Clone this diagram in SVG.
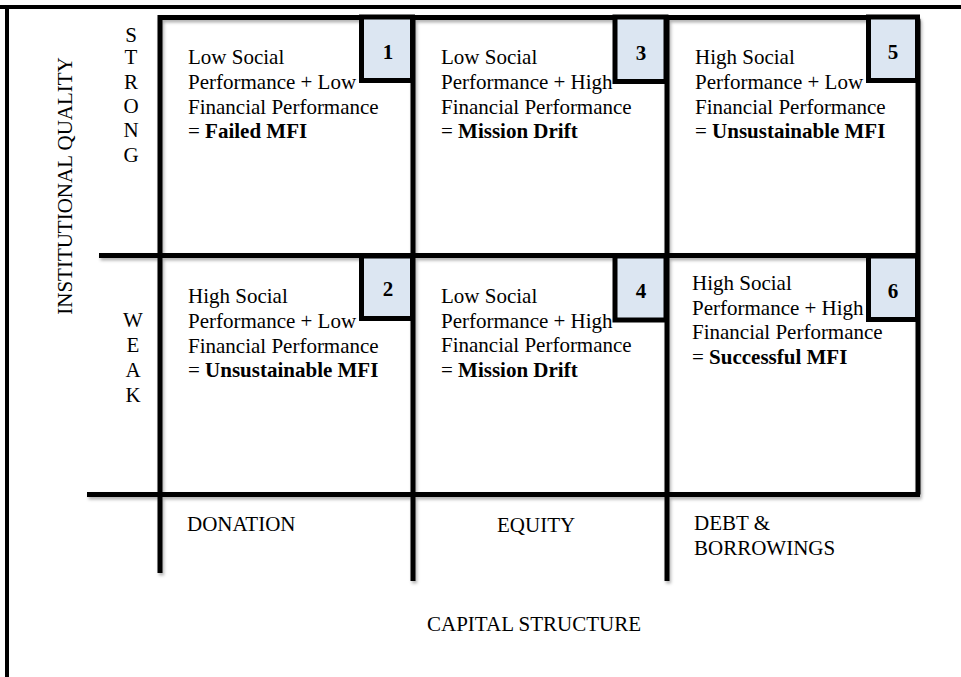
<svg xmlns="http://www.w3.org/2000/svg" width="961" height="677" viewBox="0 0 961 677">
  <defs>
    <filter id="shadow" x="-5%" y="-5%" width="110%" height="110%">
      <feDropShadow dx="1.5" dy="2.5" stdDeviation="1.5" flood-color="#000" flood-opacity="0.3"/>
    </filter>
  </defs>
  <style>
    text { font-family: "Liberation Serif", "Times New Roman", serif; font-size: 21px; fill: #000; }
    .b { font-weight: bold; }
    .num { font-weight: bold; text-anchor: middle; }
    .nbox { fill: #dce6f2; stroke: #000; stroke-width: 5; }
    .grid { stroke: #000; stroke-width: 5; fill: none; }
    .frame { stroke: #000; stroke-width: 4; fill: none; }
    .mid { text-anchor: middle; }
  </style>
  <rect width="961" height="677" fill="#fff"/>

  <g id="frame">
    <line class="frame" x1="0" y1="7" x2="961" y2="7"/>
    <line class="frame" x1="7" y1="5" x2="7" y2="677"/>
  </g>

  <g id="connectors" filter="url(#shadow)">
    <path class="grid" d="M160 573 V17.5 H914 Q918 17.5 918 21.5 V494.5"/>
    <line class="grid" x1="413" y1="17" x2="413" y2="581"/>
    <line class="grid" x1="667" y1="17" x2="667" y2="581"/>
    <line class="grid" x1="99" y1="255.5" x2="920" y2="255.5"/>
    <line class="grid" x1="87" y1="494.5" x2="920" y2="494.5"/>
  </g>

  <g id="cell-1">
    <rect class="nbox" x="361.5" y="17" width="51" height="63.5"/>
    <text class="num" x="388" y="59">1</text>
    <text x="188" y="64">Low Social</text>
    <text x="188" y="89">Performance + Low</text>
    <text x="188" y="114">Financial Performance</text>
    <text x="188" y="138">= <tspan class="b">Failed MFI</tspan></text>
  </g>

  <g id="cell-3">
    <rect class="nbox" x="615" y="17" width="51" height="64.5"/>
    <text class="num" x="641" y="60">3</text>
    <text x="441" y="64">Low Social</text>
    <text x="441" y="89">Performance + High</text>
    <text x="441" y="114">Financial Performance</text>
    <text x="441" y="138">= <tspan class="b">Mission Drift</tspan></text>
  </g>

  <g id="cell-5">
    <rect class="nbox" x="868.5" y="17" width="49" height="63.5"/>
    <text class="num" x="893" y="59">5</text>
    <text x="695" y="64">High Social</text>
    <text x="695" y="89">Performance + Low</text>
    <text x="695" y="114">Financial Performance</text>
    <text x="695" y="138">= <tspan class="b">Unsustainable MFI</tspan></text>
  </g>

  <g id="cell-2">
    <rect class="nbox" x="361.5" y="256" width="51" height="62.5"/>
    <text class="num" x="388" y="296">2</text>
    <text x="188" y="303">High Social</text>
    <text x="188" y="328">Performance + Low</text>
    <text x="188" y="353">Financial Performance</text>
    <text x="188" y="377">= <tspan class="b">Unsustainable MFI</tspan></text>
  </g>

  <g id="cell-4">
    <rect class="nbox" x="615" y="256" width="51" height="64"/>
    <text class="num" x="641" y="298">4</text>
    <text x="441" y="303">Low Social</text>
    <text x="441" y="328">Performance + High</text>
    <text x="441" y="352">Financial Performance</text>
    <text x="441" y="377">= <tspan class="b">Mission Drift</tspan></text>
  </g>

  <g id="cell-6">
    <rect class="nbox" x="868.5" y="256" width="49" height="63.5"/>
    <text class="num" x="893" y="298">6</text>
    <text x="692" y="290">High Social</text>
    <text x="692" y="315">Performance + High</text>
    <text x="692" y="339">Financial Performance</text>
    <text x="692" y="364">= <tspan class="b">Successful MFI</tspan></text>
  </g>

  <g id="label-strong">
    <text class="mid" x="131" y="42">S</text>
    <text class="mid" x="131" y="64">T</text>
    <text class="mid" x="131" y="89">R</text>
    <text class="mid" x="131" y="113">O</text>
    <text class="mid" x="131" y="137">N</text>
    <text class="mid" x="131" y="162">G</text>
  </g>

  <g id="label-weak">
    <text class="mid" x="133" y="327">W</text>
    <text class="mid" x="133" y="352">E</text>
    <text class="mid" x="133" y="377">A</text>
    <text class="mid" x="133" y="402">K</text>
  </g>

  <g id="label-institutional-quality">
    <text class="mid" transform="translate(72 186) rotate(-90)">INSTITUTIONAL QUALITY</text>
  </g>

  <g id="label-donation">
    <text x="187" y="531">DONATION</text>
  </g>
  <g id="label-equity">
    <text x="497" y="532">EQUITY</text>
  </g>
  <g id="label-debt">
    <text x="694" y="530">DEBT &amp;</text>
    <text x="694" y="555">BORROWINGS</text>
  </g>
  <g id="label-capital-structure">
    <text x="427" y="631">CAPITAL STRUCTURE</text>
  </g>
</svg>
